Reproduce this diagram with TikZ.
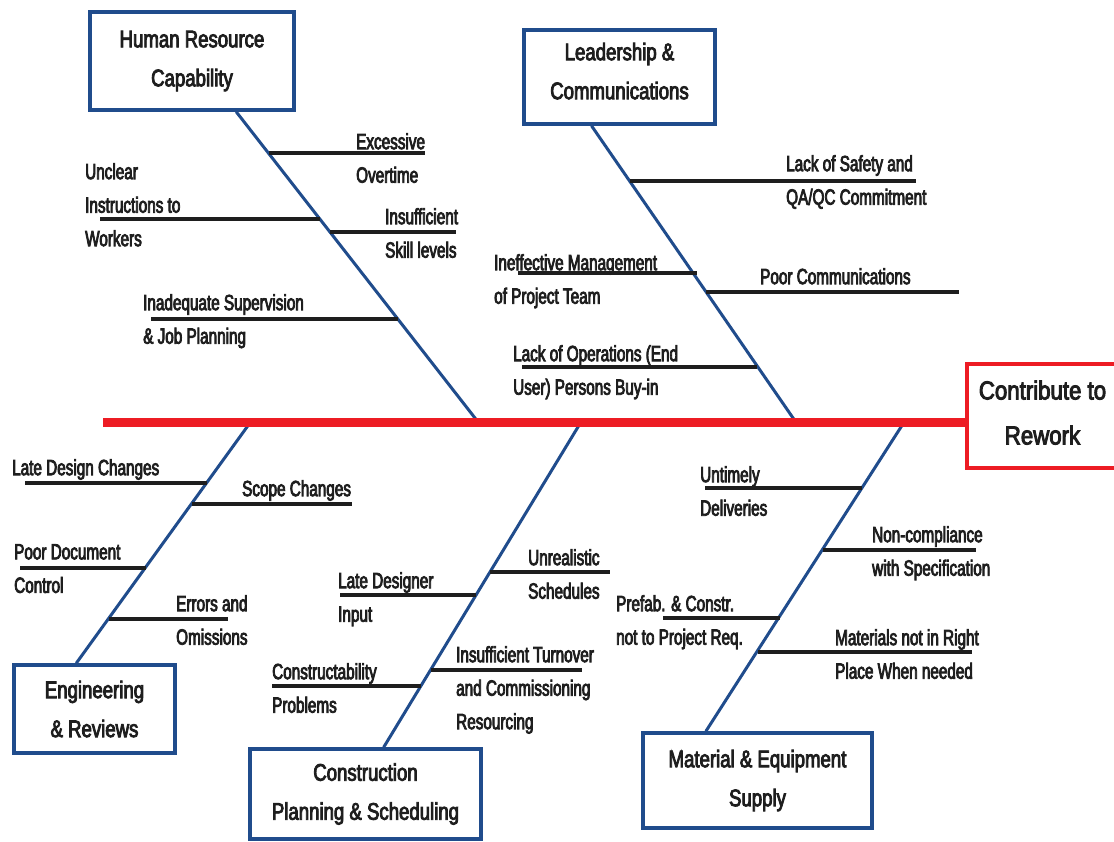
\documentclass[tikz,border=0pt]{standalone}
\usepackage{fontspec}
\setmainfont{Liberation Sans}[FakeStretch=0.695, FakeBold=3.5]
\newfontfamily\boxfont{Liberation Sans}[FakeStretch=0.775, FakeBold=3.5]
\newfontfamily\efffont{Liberation Sans}[FakeStretch=0.855, FakeBold=3.5]
\usetikzlibrary{calc}
\definecolor{boneblue}{RGB}{32,76,140}
\definecolor{spinered}{RGB}{237,28,36}
\definecolor{inkblack}{RGB}{30,30,30}
\tikzset{
  catbox/.style={draw=boneblue, line width=3.5pt, fill=white, align=center, inner sep=0pt,
    font=\boxfont\fontsize{24}{39}\selectfont, text=inkblack},
  effbox/.style={draw=spinered, line width=3.5pt, fill=white, align=center, inner sep=0pt,
    font=\efffont\fontsize{26}{45}\selectfont, text=inkblack},
  bone/.style={draw=boneblue, line width=3pt},
  spineline/.style={draw=spinered, line width=9pt},
  sub/.style={draw=inkblack, line width=4pt},
  lbl/.style={align=left, anchor=north west, inner sep=0pt, text=inkblack,
    font=\fontsize{22}{33.5}\selectfont},
}
\begin{document}
\begin{tikzpicture}[x=1pt,y=-1pt]
\useasboundingbox (0,0) rectangle (1114,841);

% ---------- category boxes and effect ----------
\node[catbox, minimum width=204pt, minimum height=98pt] (hr) at (192,61) {Human Resource\\Capability};
\node[catbox, minimum width=191pt, minimum height=94pt, text depth=12pt] (lc) at (619.5,77) {Leadership \&\\Communications};
\node[catbox, minimum width=161pt, minimum height=88pt] (er) at (94.5,709) {Engineering\\\& Reviews};
\node[catbox, minimum width=231pt, minimum height=90pt] (cp) at (365.5,794) {Construction\\Planning \& Scheduling};
\node[catbox, minimum width=229pt, minimum height=95pt] (me) at (757.5,780.5) {Material \& Equipment\\Supply};
\node[effbox, minimum width=151pt, minimum height=104pt, text depth=7pt] (eff) at (1042.5,416) {Contribute to\\Rework};

% ---------- spine coordinates ----------
\coordinate (spineL) at (103,422);
\coordinate (hrS) at (478.1,422);
\coordinate (lcS) at (795.8,422);
\coordinate (erS) at (250.6,422);
\coordinate (cpS) at (581,422);
\coordinate (meS) at (904.2,422);

% ---------- bones ----------
\draw[bone] ($(hr.south west)!0.713!(hr.south east)$) -- (hrS);
\draw[bone] ($(lc.south west)!0.356!(lc.south east)$) -- (lcS);
\draw[bone] ($(er.north west)!0.389!(er.north east)$) -- (erS);
\draw[bone] ($(cp.north west)!0.5775!(cp.north east)$) -- (cpS);
\draw[bone] ($(me.north west)!0.278!(me.north east)$) -- (meS);

% ---------- spine ----------
\draw[spineline] (spineL) -- (spineL -| eff.west);

% ---------- Human Resource sub-causes ----------
\coordinate (h1a) at (269,153); \coordinate (h1b) at (425,153);
\coordinate (h2a) at (100,219); \coordinate (h2b) at (320,219);
\coordinate (h3a) at (330,232); \coordinate (h3b) at (456,232);
\coordinate (h4a) at (151,319); \coordinate (h4b) at (398,319);
\draw[sub] (h1a) -- (h1b);
\draw[sub] (h2a) -- (h2b);
\draw[sub] (h3a) -- (h3b);
\draw[sub] (h4a) -- (h4b);
\node[lbl] (t-h1) at (356,133) {Excessive\\Overtime};
\node[lbl] (t-h2) at (85,163) {Unclear\\Instructions to\\Workers};
\node[lbl] (t-h3) at (385,208) {Insufficient\\Skill levels};
\node[lbl] (t-h4) at (143,294) {Inadequate Supervision\\\& Job Planning};

% ---------- Leadership sub-causes ----------
\coordinate (l1a) at (630,181); \coordinate (l1b) at (916,181);
\coordinate (l2a) at (518,273); \coordinate (l2b) at (697,273);
\coordinate (l3a) at (706,292); \coordinate (l3b) at (959,292);
\coordinate (l4a) at (522,367); \coordinate (l4b) at (757,367);
\draw[sub] (l1a) -- (l1b);
\draw[sub] (l2a) -- (l2b);
\draw[sub] (l3a) -- (l3b);
\draw[sub] (l4a) -- (l4b);
\node[lbl] (t-l1) at (786,155) {Lack of Safety and\\QA/QC Commitment};
\node[lbl] (t-l2) at (494,254) {Ineffective Management\\of Project Team};
\node[lbl] (t-l3) at (760,268) {Poor Communications};
\node[lbl] (t-l4) at (513,345) {Lack of Operations (End\\User) Persons Buy-in};

% ---------- Engineering sub-causes ----------
\coordinate (e1a) at (25,483); \coordinate (e1b) at (207,483);
\coordinate (e2a) at (192,504); \coordinate (e2b) at (352,504);
\coordinate (e3a) at (20,568); \coordinate (e3b) at (146,568);
\coordinate (e4a) at (109,619); \coordinate (e4b) at (228,619);
\draw[sub] (e1a) -- (e1b);
\draw[sub] (e2a) -- (e2b);
\draw[sub] (e3a) -- (e3b);
\draw[sub] (e4a) -- (e4b);
\node[lbl] (t-e1) at (12,459) {Late Design Changes};
\node[lbl] (t-e2) at (242,480) {Scope Changes};
\node[lbl] (t-e3) at (14,544) {Poor Document\\Control};
\node[lbl] (t-e4) at (176,595) {Errors and\\Omissions};

% ---------- Construction sub-causes ----------
\coordinate (c1a) at (490,572); \coordinate (c1b) at (610,572);
\coordinate (c2a) at (340,595); \coordinate (c2b) at (476,595);
\coordinate (c3a) at (431,670); \coordinate (c3b) at (582,670);
\coordinate (c4a) at (272,686); \coordinate (c4b) at (421,686);
\draw[sub] (c1a) -- (c1b);
\draw[sub] (c2a) -- (c2b);
\draw[sub] (c3a) -- (c3b);
\draw[sub] (c4a) -- (c4b);
\node[lbl] (t-c1) at (528,549) {Unrealistic\\Schedules};
\node[lbl] (t-c2) at (338,572) {Late Designer\\Input};
\node[lbl] (t-c3) at (456,646) {Insufficient Turnover\\and Commissioning\\Resourcing};
\node[lbl] (t-c4) at (272,663) {Constructability\\Problems};

% ---------- Material sub-causes ----------
\coordinate (m1a) at (705,488); \coordinate (m1b) at (862,488);
\coordinate (m2a) at (823,550); \coordinate (m2b) at (976,550);
\coordinate (m3a) at (663,618); \coordinate (m3b) at (780,618);
\coordinate (m4a) at (758,652); \coordinate (m4b) at (972,652);
\draw[sub] (m1a) -- (m1b);
\draw[sub] (m2a) -- (m2b);
\draw[sub] (m3a) -- (m3b);
\draw[sub] (m4a) -- (m4b);
\node[lbl] (t-m1) at (700,466) {Untimely\\Deliveries};
\node[lbl] (t-m2) at (872,526) {Non-compliance\\with Specification};
\node[lbl] (t-m3) at (616,595) {Prefab. \& Constr.\\not to Project Req.};
\node[lbl] (t-m4) at (835,629) {Materials not in Right\\Place When needed};
\end{tikzpicture}
\end{document}
